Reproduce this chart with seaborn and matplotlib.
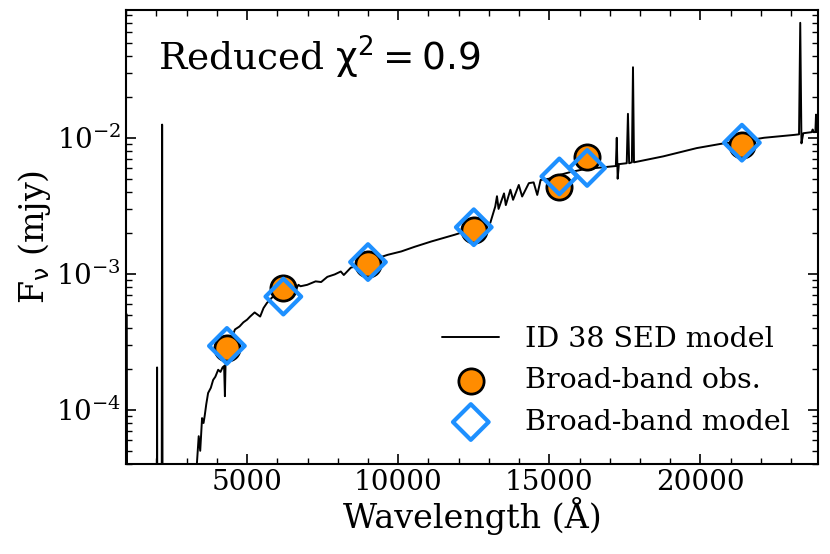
import numpy as np
import pandas as pd
import matplotlib
matplotlib.use("Agg")
import matplotlib.pyplot as plt
import seaborn as sns

# ----------------------------------------------------------
# Data
# ----------------------------------------------------------

# SED model spectrum (wavelength in Angstrom, flux in mjy)
sed_wave = [1000, 1020, 1040, 1980, 2010, 2023, 2036, 2170, 2190, 2210,
            3300, 3322, 3400, 3450, 3511, 3560, 3600, 3650, 3711, 3800,
            3878, 3950, 4044, 4120, 4189, 4240, 4267, 4290, 4330, 4450,
            4600, 4750, 4878, 5000, 5100, 5250, 5433, 5544, 5656, 5800,
            6000, 6200, 6400, 6600, 6700, 6767, 6990, 7267, 7450, 7656,
            7900, 8100, 8200, 8433, 8700, 9000, 9300, 9656, 10100, 10544,
            11100, 11878, 12500, 13044, 13211, 13267, 13320, 13500, 13560, 13711,
            13800, 13989, 14100, 14322, 14480, 14600, 14711, 14989, 15300, 15700,
            16200, 16878, 17200, 17230, 17260, 17300, 17560, 17600, 17640, 17730,
            17767, 17800, 18767, 19878, 20767, 21370, 22100, 23100, 23260, 23300,
            23340, 23400, 23680, 23711, 23740, 23800, 23822, 23850, 24100]
sed_flux = [5.1e-4, 5.0e-4, 1e-6, 1e-6, 1e-6, 2.05e-4, 1e-6, 1e-6, 1.25e-2, 1e-6,
            1e-6, 3.5e-5, 6.4e-5, 5.0e-5, 8.7e-5, 8.0e-5, 9.1e-5, 1.1e-4, 1.33e-4, 1.45e-4,
            1.66e-4, 1.75e-4, 1.97e-4, 1.9e-4, 2.05e-4, 2.1e-4, 1.26e-4, 2.3e-4, 2.6e-4, 3.2e-4,
            3.9e-4, 4.1e-4, 4.4e-4, 4.6e-4, 4.85e-4, 5.2e-4, 4.85e-4, 5.6e-4, 6.1e-4, 6.6e-4,
            7.3e-4, 7.8e-4, 8.2e-4, 7.6e-4, 8.3e-4, 8.1e-4, 8.3e-4, 8.8e-4, 8.7e-4, 9.5e-4,
            9.9e-4, 1.04e-3, 9.8e-4, 1.11e-3, 1.15e-3, 1.2e-3, 1.3e-3, 1.38e-3, 1.46e-3, 1.58e-3,
            1.73e-3, 1.94e-3, 2.15e-3, 2.36e-3, 3.13e-3, 3.72e-3, 3.0e-3, 3.9e-3, 3.2e-3, 4.15e-3,
            3.5e-3, 4.5e-3, 3.7e-3, 4.64e-3, 4.7e-3, 3.8e-3, 4.9e-3, 5.0e-3, 5.3e-3, 5.6e-3,
            5.9e-3, 6.1e-3, 6.2e-3, 1.0e-2, 5.0e-3, 6.4e-3, 6.5e-3, 1.5e-2, 6.5e-3, 6.6e-3,
            3.3e-2, 6.6e-3, 7.3e-3, 8.4e-3, 9.1e-3, 9.4e-3, 1.0e-2, 1.05e-2, 1.06e-2, 7.0e-2,
            9.1e-3, 1.08e-2, 1.1e-2, 1.15e-2, 1.1e-2, 1.1e-2, 1.48e-2, 1.1e-2, 1.11e-2]

# broad-band photometry
band_wave = [4333, 6200, 9000, 12500, 15330, 16250, 21370]
obs_flux = [2.86e-4, 7.9e-4, 1.19e-3, 2.11e-3, 4.36e-3, 7.2e-3, 8.9e-3]
model_flux = [2.95e-4, 6.8e-4, 1.22e-3, 2.2e-3, 5.2e-3, 6.0e-3, 9.2e-3]

chi2_text = r"Reduced $\chi^2 = 0.9$"

sed = pd.DataFrame({"wave": sed_wave, "flux": sed_flux})
bands = pd.DataFrame({"wave": band_wave, "obs": obs_flux, "model": model_flux})

# ----------------------------------------------------------
# Plot
# ----------------------------------------------------------

sns.set_style("ticks")
plt.rcParams["font.family"] = ["DejaVu Serif"]
plt.rcParams["mathtext.fontset"] = "dejavusans"
plt.rcParams["mathtext.default"] = "rm"
for key in ["text.color", "axes.labelcolor", "xtick.color", "ytick.color", "axes.edgecolor"]:
    plt.rcParams[key] = "black"
plt.rcParams["xtick.direction"] = "in"
plt.rcParams["ytick.direction"] = "in"
plt.rcParams["xtick.top"] = True
plt.rcParams["ytick.right"] = True

fig, ax = plt.subplots(figsize=(8.3, 5.54), dpi=100)
fig.subplots_adjust(left=0.152, right=0.986, bottom=0.1625, top=0.982)

sns.lineplot(data=sed, x="wave", y="flux", color="black", lw=1.4,
             estimator=None, sort=False, label="ID 38 SED model", ax=ax)
sns.scatterplot(data=bands, x="wave", y="obs", marker="o", s=330,
                color="darkorange", edgecolor="black", linewidth=2,
                label="Broad-band obs.", zorder=3, ax=ax)
sns.scatterplot(data=bands, x="wave", y="model", marker="D", s=330,
                facecolor="none", edgecolor="dodgerblue", linewidth=3,
                label="Broad-band model", zorder=4, ax=ax)

ax.set_yscale("log")
ax.set_xlim(1000, 23900)
ax.set_ylim(4e-5, 8.7e-2)
ax.set_xticks([5000, 10000, 15000, 20000])
ax.xaxis.set_minor_locator(matplotlib.ticker.MultipleLocator(1000))

ax.set_xlabel("Wavelength (Å)", fontsize=24, labelpad=1)
ax.set_ylabel(r"F$_\nu$ (mjy)", fontsize=24, labelpad=2)
ax.tick_params(which="major", labelsize=20, length=7, width=1.2)
ax.tick_params(which="minor", length=4, width=1)
for sp in ax.spines.values():
    sp.set_linewidth(1.5)

ax.text(0.046, 0.866, chi2_text, transform=ax.transAxes,
        fontsize=27, va="baseline", ha="left")

ax.legend(loc="lower right", frameon=False, fontsize=20.5,
          handlelength=2.0, handletextpad=0.9, borderaxespad=0.6,
          labelspacing=0.5)

plt.savefig("out.png", dpi=100)
